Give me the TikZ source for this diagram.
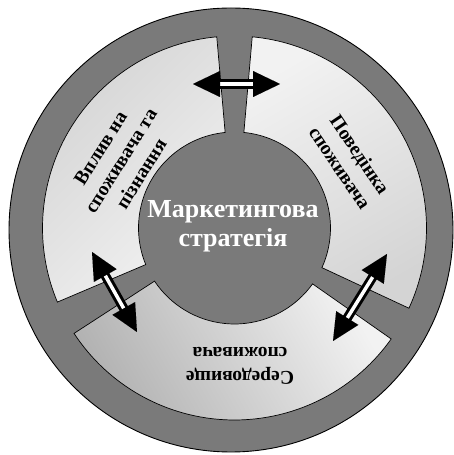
\documentclass[tikz,border=0pt]{standalone}
\usepackage{fontspec}
\setmainfont{Liberation Serif}
\usetikzlibrary{arrows.meta,calc}

\definecolor{anillo}{RGB}{122,122,122}
\definecolor{grisclaro}{RGB}{242,242,242}
\definecolor{grismedio}{RGB}{212,212,212}
\definecolor{grisoscuro}{RGB}{178,178,178}

\tikzset{
  sector/.style={draw=black, line width=0.7pt},
  etiqueta/.style={font=\bfseries\fontsize{19.5}{24}\selectfont, align=center},
  cabeza/.style={-{Triangle[length=27pt,width=26pt]}, line width=0.01pt},
  eje/.style={draw=black, line width=3pt, double=white, double distance=3.5pt}
}

\begin{document}
\begin{tikzpicture}[x=1pt,y=1pt]
        % Parámetros
        \def\R{192}      % Radio exterior de los sectores
        \def\r{96}       % Radio interior de los sectores
        \def\da{5.3}     % Medio hueco exterior (grados)
        \def\db{5.6}     % Medio hueco interior (grados)

        % Marco de la figura
        \useasboundingbox (0,0) rectangle (453,455);

        % Disco exterior
        \draw[fill=anillo, line width=0.9pt] (231,225) circle (222);

        \begin{scope}[shift={(234.5,227)}]
        % Sector superior izquierdo
        \draw[sector, top color=grismedio, bottom color=grisclaro, shading angle=45]
            ({90+\da}:\R) arc[start angle={90+\da}, end angle={208-\da}, radius=\R]
            -- ({208-\db}:\r) arc[start angle={208-\db}, end angle={90+\db}, radius=\r] -- cycle;

        % Sector derecho
        \draw[sector, top color=grisclaro, bottom color=grismedio, shading angle=30]
            ({-30+\da}:\R) arc[start angle={-30+\da}, end angle={90-\da}, radius=\R]
            -- ({90-\db}:\r) arc[start angle={90-\db}, end angle={-30+\db}, radius=\r] -- cycle;

        % Sector inferior
        \draw[sector, top color=grisoscuro, bottom color=grisclaro, shading angle=120]
            ({208+\da}:\R) arc[start angle={208+\da}, end angle={330-\da}, radius=\R]
            -- ({330-\db}:\r) arc[start angle={330-\db}, end angle={208+\db}, radius=\r] -- cycle;

        % Extremos de las flechas
        \coordinate (f1a) at (-41.5,144);
        \coordinate (f1b) at (45.5,144);
        \coordinate (f2a) at (-142.5,-24);
        \coordinate (f2b) at (-97.5,-104);
        \coordinate (f3a) at (152.5,-26);
        \coordinate (f3b) at (98.5,-113);

        % Flecha superior
        \draw[eje] ($(f1a)!20pt!(f1b)$) -- ($(f1b)!20pt!(f1a)$);
        \draw[cabeza] ($(f1a)!26pt!(f1b)$) -- (f1a);
        \draw[cabeza] ($(f1b)!26pt!(f1a)$) -- (f1b);

        % Flecha izquierda
        \draw[eje] ($(f2a)!20pt!(f2b)$) -- ($(f2b)!20pt!(f2a)$);
        \draw[cabeza] ($(f2a)!26pt!(f2b)$) -- (f2a);
        \draw[cabeza] ($(f2b)!26pt!(f2a)$) -- (f2b);

        % Flecha derecha
        \draw[eje] ($(f3a)!20pt!(f3b)$) -- ($(f3b)!20pt!(f3a)$);
        \draw[cabeza] ($(f3a)!26pt!(f3b)$) -- (f3a);
        \draw[cabeza] ($(f3b)!26pt!(f3a)$) -- (f3b);

        % Textos
        \node[text=white, align=center, font=\bfseries\fontsize{26}{29}\selectfont] (centro) at (-1.5,2) {Маркетингова\\стратегія};
        \node[etiqueta, rotate=58] (vplyv) at (149.4:132) {Вплив на\\споживача та\\пізнання};
        \node[etiqueta, rotate=-56] (povedinka) at (30.1:133.5) {Поведінка\\споживача};
        \node[etiqueta, rotate=180] (seredovyshche) at (272.3:138) {Середовище\\споживача};
        \end{scope}
    \end{tikzpicture}
\end{document}
